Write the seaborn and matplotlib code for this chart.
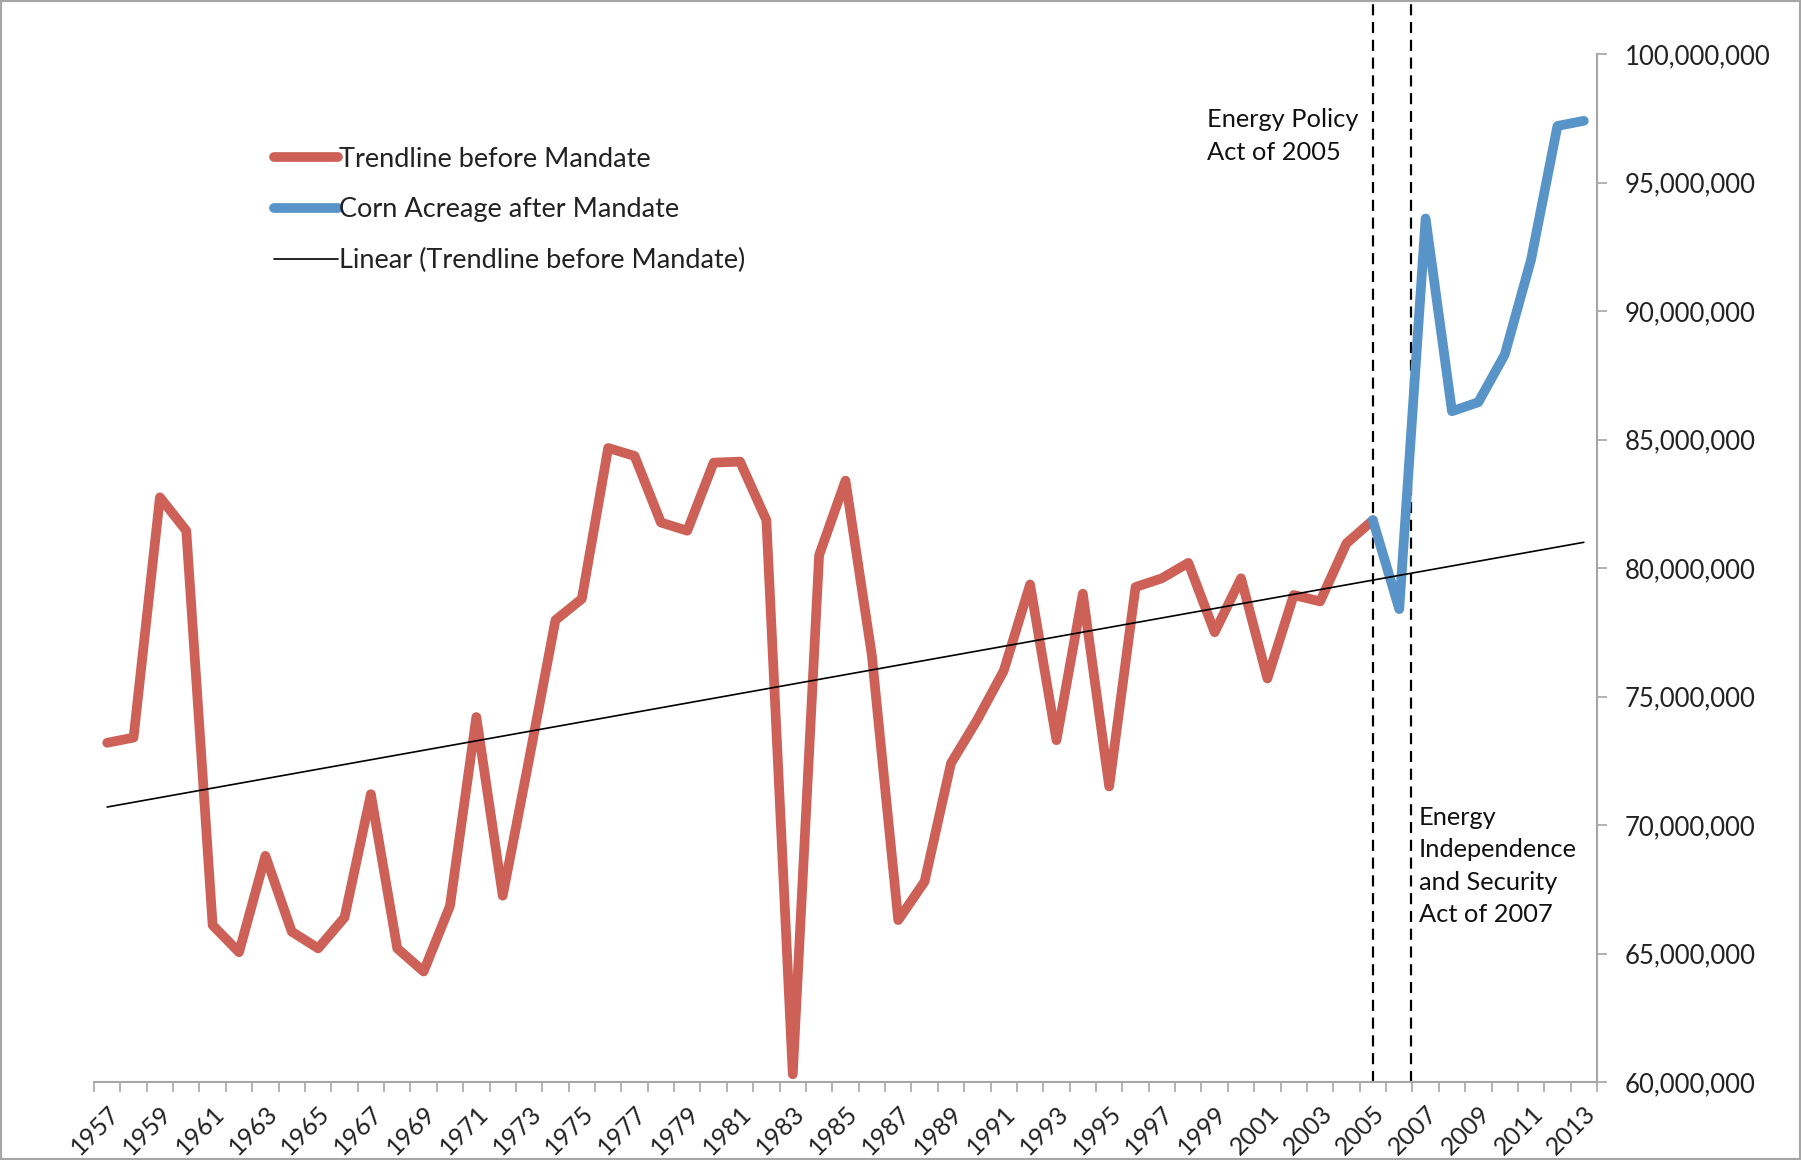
import numpy as np
import pandas as pd
import matplotlib
matplotlib.use("Agg")
import matplotlib.pyplot as plt
import seaborn as sns
from matplotlib.ticker import FuncFormatter, MultipleLocator
from matplotlib.patches import Rectangle

# ---------------- data ----------------
red_years = list(range(1957, 2006))
red_values = [73.2, 73.4, 82.75, 81.45, 66.1, 65.05, 68.8, 65.85, 65.2, 66.4,
              71.2, 65.2, 64.3, 66.85, 74.2, 67.25, 72.55, 77.97, 78.8, 84.67,
              84.36, 81.77, 81.45, 84.1, 84.14, 81.86, 60.3, 80.5, 83.4, 76.6,
              66.3, 67.8, 72.4, 74.1, 76.0, 79.36, 73.3, 79.0, 71.5, 79.26,
              79.6, 80.2, 77.5, 79.6, 75.7, 78.95, 78.7, 80.96, 81.86]
blue_years = list(range(2005, 2014))
blue_values = [81.86, 78.4, 93.6, 86.1, 86.45, 88.3, 92.0, 97.2, 97.4]
trend_years = [1957, 2013]
trend_values = [70.7, 81.0]
policy_years = [2005, 2006.45]
label_years = list(range(1957, 2014, 2))

red_df = pd.DataFrame({"year": red_years, "acres": np.array(red_values) * 1e6})
blue_df = pd.DataFrame({"year": blue_years, "acres": np.array(blue_values) * 1e6})
trend_df = pd.DataFrame({"year": trend_years, "acres": np.array(trend_values) * 1e6})

# ---------------- style ----------------
sns.set_theme(style="white")
plt.rcParams["font.family"] = ["Lato", "DejaVu Sans"]

RED = "#CD6158"
BLUE = "#5894C8"
GRAY = "#A6A6A6"

fig = plt.figure(figsize=(18.01, 11.60), dpi=100)
ax = fig.add_axes([94 / 1801, 78 / 1160, (1597 - 94) / 1801, (1082 - 54) / 1160])

sns.lineplot(data=red_df, x="year", y="acres", ax=ax, color=RED, lw=7,
             label="Trendline before Mandate", solid_capstyle="round",
             solid_joinstyle="round")
sns.lineplot(data=blue_df, x="year", y="acres", ax=ax, color=BLUE, lw=7,
             label="Corn Acreage after Mandate", solid_capstyle="round",
             solid_joinstyle="round")
sns.lineplot(data=trend_df, x="year", y="acres", ax=ax, color="black", lw=1.2,
             label="Linear (Trendline before Mandate)")

for yr in policy_years:
    ax.axvline(yr, ymin=0, ymax=1.06, color="black", lw=1.6,
               linestyle=(0, (5, 3)), clip_on=False, zorder=1)

ax.set_xlim(1956.5, 2013.5)
ax.set_ylim(60e6, 100e6)
ax.set_xlabel("")
ax.set_ylabel("")

# y axis on right
ax.yaxis.tick_right()
ax.yaxis.set_major_locator(MultipleLocator(5e6))
ax.yaxis.set_major_formatter(FuncFormatter(lambda v, p: f"{int(round(v)):,}"))
ax.tick_params(axis="y", which="major", direction="out", length=7, width=1.2,
               color=GRAY, labelsize=18.5, pad=13, labelcolor="#222222", right=True, left=False)

# x axis
ax.set_xticks(label_years)
ax.set_xticklabels([str(y) for y in label_years], rotation=45, ha="right",
                   rotation_mode="anchor")
ax.set_xticks(np.arange(1956.5, 2014.0, 1.0), minor=True)
ax.tick_params(axis="x", which="major", length=0, labelsize=18, pad=14,
               labelcolor="#222222", bottom=True)
ax.tick_params(axis="x", which="minor", direction="out", length=7, width=1.2,
               color=GRAY, bottom=True)

for side in ["top", "left"]:
    ax.spines[side].set_visible(False)
for side in ["bottom", "right"]:
    ax.spines[side].set_color(GRAY)
    ax.spines[side].set_linewidth(1.5)

# legend
leg = ax.legend(loc="center left", bbox_to_anchor=(274 / 1801, 1 - 210 / 1160),
                bbox_transform=fig.transFigure, frameon=False, fontsize=19.5,
                handlelength=2.35, handletextpad=0.05, labelspacing=0.95,
                borderpad=0, borderaxespad=0)
for t in leg.get_texts():
    t.set_color("#222222")

# annotations
fig.text(1207 / 1801, 1 - 136 / 1160, "Energy Policy\nAct of 2005", fontsize=18.3,
         ha="left", va="center", color="#111111", linespacing=1.5)
fig.text(1419 / 1801, 1 - 866 / 1160, "Energy\nIndependence\nand Security\nAct of 2007",
         fontsize=18.3, ha="left", va="center", color="#111111", linespacing=1.5)

# chart border
fig.patches.append(Rectangle((0, 0), 1, 1, transform=fig.transFigure, fill=False,
                             edgecolor=GRAY, lw=3, zorder=10))

fig.savefig("out.png", dpi=100, facecolor="white")
